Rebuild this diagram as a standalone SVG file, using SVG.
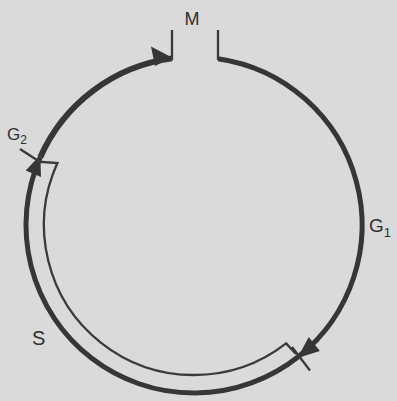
<svg xmlns="http://www.w3.org/2000/svg" width="397" height="401" viewBox="0 0 397 401">
<style>
.bg{fill:#dadada}
.arc{fill:none;stroke:#363636;stroke-linecap:butt}
.thin{fill:none;stroke:#3a3a3a;stroke-width:2.3;stroke-linejoin:miter}
.head{fill:#363636}
.lbl{font-family:"Liberation Sans",Arial,sans-serif;fill:#2f2f2f}
</style>
<rect class="bg" x="0" y="0" width="397" height="401"/>
<g id="connectors">
  <path class="arc" stroke-width="5" d="M218 58.7 A168 168 0 0 1 298.6 356.5 A168 168 0 0 1 40.3 157.2"/>
  <path class="arc" stroke-width="6" d="M40.3 157.2 A168 168 0 0 1 172 58.4"/>
  <polygon class="head" points="172,57.5 151,46.5 155,66"/>
  <polygon class="head" points="40.3,155 25.7,170.5 41,177"/>
  <polygon class="head" points="297.5,358 319.9,351 308.7,337"/>
  <line class="thin" x1="172" y1="30" x2="172" y2="60"/>
  <line class="thin" x1="218" y1="30" x2="218" y2="60"/>
  <line class="thin" x1="20" y1="149" x2="40" y2="162"/>
  <line class="thin" x1="292" y1="347" x2="310" y2="370.5"/>
  <path class="thin" d="M36 161.5 L57.4 163 A150 150 0 0 0 286.1 343.4 L296 354"/>
</g>
<g id="phase-M"><text class="lbl" x="192" y="25" font-size="18" text-anchor="middle">M</text></g>
<g id="phase-G2"><text class="lbl" x="7" y="140" font-size="17">G<tspan font-size="12" dy="4">2</tspan></text></g>
<g id="phase-G1"><text class="lbl" x="369" y="232" font-size="19">G<tspan font-size="13" dy="5">1</tspan></text></g>
<g id="phase-S"><text class="lbl" x="32" y="345" font-size="20">S</text></g>
</svg>
